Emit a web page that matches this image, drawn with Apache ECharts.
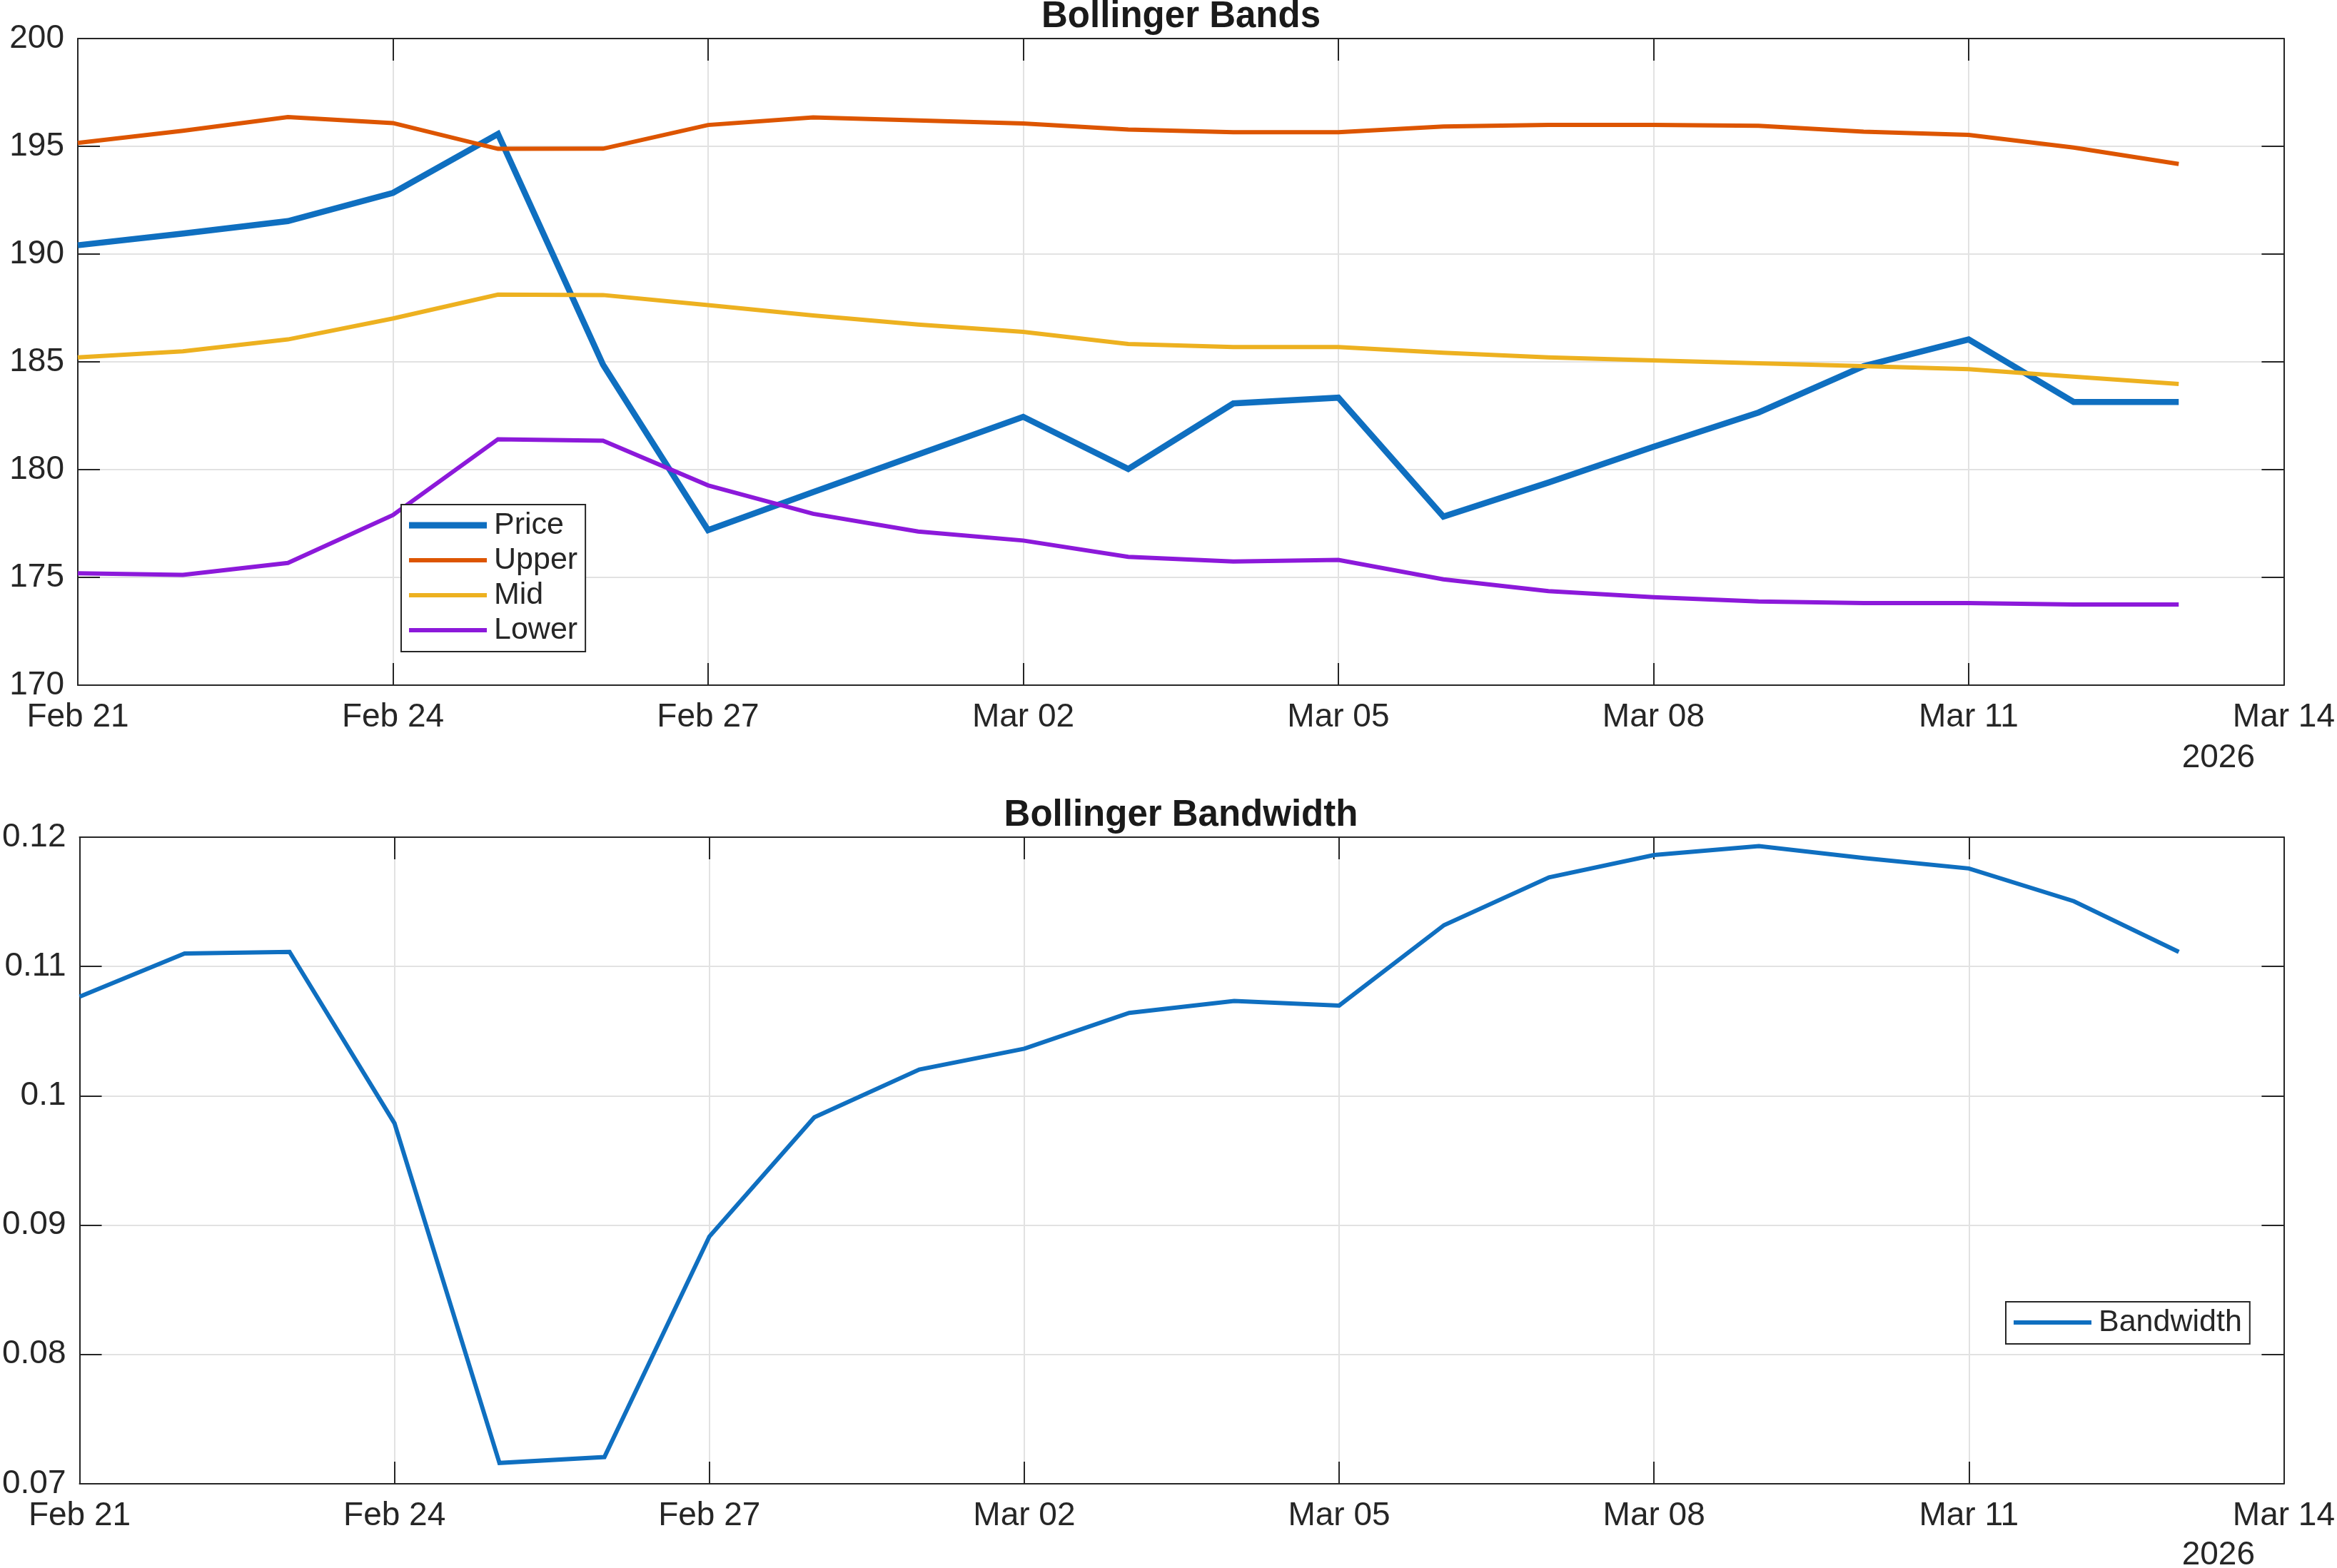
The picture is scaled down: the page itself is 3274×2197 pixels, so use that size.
<!DOCTYPE html>
<html>
<head>
<meta charset="utf-8">
<script src="https://cdn.jsdelivr.net/npm/echarts@6/dist/echarts.min.js"></script>
<style>
html,body{margin:0;padding:0;background:#fff;}
#chart{width:3274px;height:2197px;}
</style>
</head>
<body>
<div id="chart"></div>
<script>
// Daily dates, Feb 21 .. Mar 13, 2026 (index 0..20)
const dates = ['Feb 21','Feb 22','Feb 23','Feb 24','Feb 25','Feb 26','Feb 27','Feb 28','Mar 01','Mar 02','Mar 03','Mar 04','Mar 05','Mar 06','Mar 07','Mar 08','Mar 09','Mar 10','Mar 11','Mar 12','Mar 13'];
const xTickLabels = ['Feb 21','Feb 24','Feb 27','Mar 02','Mar 05','Mar 08','Mar 11','Mar 14'];
const yearLabel = '2026';

const price = [190.41,190.95,191.53,192.84,195.57,184.87,177.19,178.96,180.70,182.45,180.03,183.07,183.34,177.82,179.40,181.06,182.65,184.80,186.04,183.14,183.14];
const upper = [195.16,195.72,196.36,196.08,194.88,194.89,195.99,196.34,196.20,196.06,195.78,195.65,195.65,195.92,195.99,195.99,195.95,195.68,195.53,194.94,194.18];
const mid   = [185.21,185.49,186.04,187.01,188.12,188.10,187.63,187.15,186.73,186.39,185.83,185.69,185.69,185.42,185.21,185.07,184.93,184.80,184.66,184.31,183.97];
const lower = [175.19,175.12,175.67,177.89,181.41,181.34,179.27,177.95,177.13,176.71,175.95,175.74,175.81,174.91,174.36,174.08,173.88,173.81,173.81,173.74,173.74];
const bandwidth = [0.10767,0.11101,0.11113,0.09788,0.07161,0.07207,0.08912,0.09834,0.10203,0.10364,0.10641,0.10733,0.10698,0.11320,0.11689,0.11862,0.11931,0.11839,0.11758,0.11505,0.11113];

const FONT = '"Liberation Sans", Arial, Helvetica, sans-serif';
const TXT = '#262626';
const AX = '#262626';
const GRIDC = '#e2e2e2';

const colors = {price:'#0F6FC0', upper:'#DD5500', mid:'#EDB120', lower:'#8C19DA', bw:'#0F6FC0'};

function pairs(arr){ return arr.map((v,i)=>[i,v]); }

function xAxisDef(gridIndex, pos, showLabel){
  return {
    type:'value', gridIndex, position:pos, min:0, max:21, interval:3,
    axisLine:{show:true, onZero:false, lineStyle:{color:AX, width:2}},
    axisTick:{show:true, inside:true, length:31, lineStyle:{color:AX, width:2}},
    axisLabel:{show:showLabel, margin:22, fontSize:46, fontFamily:FONT, color:TXT,
      formatter:(v)=>xTickLabels[Math.round(v/3)] || ''},
    splitLine:{show:showLabel, lineStyle:{color:GRIDC, width:2}}
  };
}
function yAxisDef(gridIndex, pos, showLabel, min, max, interval){
  return {
    type:'value', gridIndex, position:pos, min, max, interval,
    axisLine:{show:true, onZero:false, lineStyle:{color:AX, width:2}},
    axisTick:{show:true, inside:true, length:31, lineStyle:{color:AX, width:2}},
    axisLabel:{show:showLabel, margin:19, fontSize:46, fontFamily:FONT, color:TXT,
      formatter:(v)=>String(+(+v).toFixed(4))},
    splitLine:{show:showLabel, lineStyle:{color:GRIDC, width:2}}
  };
}

function lineSeries(name, data, color, width, xi, yi){
  return {
    name, type:'line', xAxisIndex:xi, yAxisIndex:yi, data:pairs(data),
    showSymbol:false, symbol:'none', smooth:false, animation:false,
    lineStyle:{color, width, cap:'butt', join:'miter'}, itemStyle:{color},
    emphasis:{disabled:true}, z:3
  };
}

const thickIcon = 'path://M0,0h109v9h-109z';
const thinIcon = 'path://M0,0h109v6h-109z';

const legendCommon = {
  orient:'vertical', itemWidth:109, itemHeight:20, itemGap:5,
  borderColor:AX, borderWidth:2, backgroundColor:'#fff', borderRadius:0,
  textStyle:{fontSize:43, lineHeight:44, fontFamily:FONT, color:TXT, padding:[0,0,0,5]},
  selectedMode:false
};

const chart = echarts.init(document.getElementById('chart'), null, {renderer:'canvas'});
chart.setOption({
  backgroundColor:'#fff',
  animation:false,
  grid:[
    {left:109, top:54, width:3091, height:906},
    {left:109, top:1173, width:3091, height:906}
  ],
  xAxis:[
    xAxisDef(0,'bottom',true),
    xAxisDef(0,'top',false),
    xAxisDef(1,'bottom',true),
    xAxisDef(1,'top',false)
  ],
  yAxis:[
    yAxisDef(0,'left',true,170,200,5),
    yAxisDef(0,'right',false,170,200,5),
    yAxisDef(1,'left',true,0.07,0.12,0.01),
    yAxisDef(1,'right',false,0.07,0.12,0.01)
  ],
  legend:[
    Object.assign({}, legendCommon, {
      left:562, top:707, padding:[7,11,8,11],
      data:[
        {name:'Price', icon:thickIcon, itemStyle:{color:colors.price}},
        {name:'Upper', icon:thinIcon, itemStyle:{color:colors.upper}},
        {name:'Mid', icon:thinIcon, itemStyle:{color:colors.mid}},
        {name:'Lower', icon:thinIcon, itemStyle:{color:colors.lower}}
      ]
    }),
    Object.assign({}, legendCommon, {
      left:2810, top:1824, padding:[7,11,8,11],
      data:[{name:'Bandwidth', icon:thinIcon, itemStyle:{color:colors.bw}}]
    })
  ],
  series:[
    lineSeries('Price', price, colors.price, 8.5, 0, 0),
    lineSeries('Upper', upper, colors.upper, 6, 0, 0),
    lineSeries('Mid', mid, colors.mid, 6, 0, 0),
    lineSeries('Lower', lower, colors.lower, 6, 0, 0),
    lineSeries('Bandwidth', bandwidth, colors.bw, 6, 2, 2)
  ],
  graphic:[
    {type:'text', x:1654.5, y:24, style:{text:'Bollinger Bands', fontSize:51, fontWeight:'bold', fontFamily:FONT, fill:'#1a1a1a', textAlign:'center', textVerticalAlign:'middle'}},
    {type:'text', x:1654.5, y:1143, style:{text:'Bollinger Bandwidth', fontSize:51, fontWeight:'bold', fontFamily:FONT, fill:'#1a1a1a', textAlign:'center', textVerticalAlign:'middle'}},
    {type:'text', x:3159, y:1062, style:{text:yearLabel, fontSize:46, fontFamily:FONT, fill:TXT, textAlign:'right', textVerticalAlign:'middle'}},
    {type:'text', x:3159, y:2179, style:{text:yearLabel, fontSize:46, fontFamily:FONT, fill:TXT, textAlign:'right', textVerticalAlign:'middle'}}
  ]
});
</script>
</body>
</html>
